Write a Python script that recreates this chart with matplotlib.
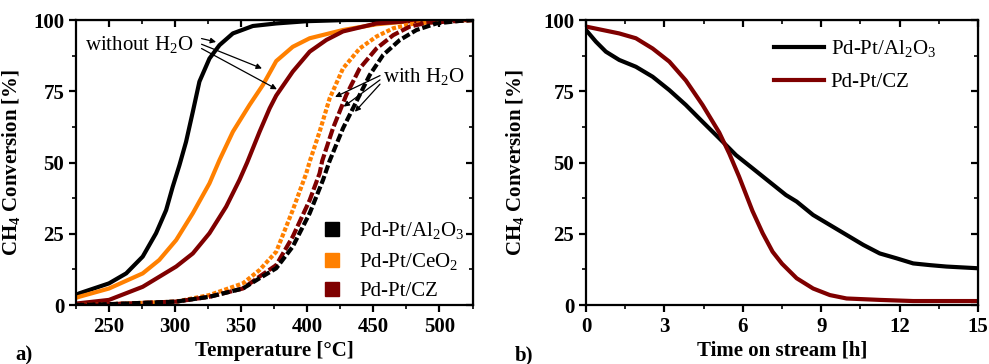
import matplotlib
matplotlib.use("Agg")
import matplotlib.pyplot as plt
from matplotlib.lines import Line2D
from matplotlib.ticker import MultipleLocator

plt.rcParams['font.family'] = ['Liberation Serif', 'DejaVu Serif']
plt.rcParams['mathtext.fontset'] = 'custom'
plt.rcParams['mathtext.rm'] = 'Liberation Serif'
plt.rcParams['mathtext.bf'] = 'Liberation Serif:bold'

BLACK = '#000000'
ORANGE = '#ff8000'
DRED = '#7f0000'

# panel a: light-off curves, without water
t_al = [225, 227.5, 250, 263, 275.5, 285.6, 293.2, 298.2, 303.3, 308.3, 313.4, 318.4,
        326, 333.6, 343.7, 358.8, 376.5, 400, 430, 525]
c_al = [3.5, 4.1, 7.6, 11.1, 17, 25.2, 33.3, 41.5, 49.1, 57.3, 67.8, 78.4,
        86.5, 91.2, 95.3, 97.9, 98.8, 99.6, 100, 100]
t_ce = [225, 227.5, 250, 275.5, 288, 300.8, 313.4, 326, 333.6, 343.7, 356.3, 366.4,
        376.5, 389, 401.8, 427, 452.3, 477.5, 500, 525]
c_ce = [2.5, 2.9, 5.8, 11.1, 15.8, 22.8, 32.2, 42.7, 50.9, 60.8, 70.2, 77.2,
        85.6, 90.6, 93.6, 96.5, 98.5, 99.6, 100, 100]
t_cz = [225, 250, 275.5, 300.8, 313.4, 326, 338.6, 348.7, 354.5, 363.9, 371.5, 376.5,
        389, 401.8, 414.4, 427, 452.3, 477.5, 500, 525]
c_cz = [0.5, 1.8, 6.4, 13.5, 18.1, 25.2, 34.5, 43.9, 50, 60.8, 69, 73.5,
        81.9, 88.9, 93, 96, 98.8, 99.6, 100, 100]

# panel a: light-off curves, with water
tw_al = [225, 250, 300.8, 326, 351.3, 363.9, 376.5, 389, 401.8, 411.9, 416.9, 427,
         437, 447.2, 457.3, 470, 482.6, 497.7, 515.4, 525]
cw_al = [0, 0.3, 1.2, 2.9, 5.8, 9.4, 12.9, 20.5, 32.2, 43.9, 50.6, 62,
         71.3, 80.7, 87.7, 93, 96.5, 98.8, 99.7, 100]
tw_ce = [225, 250, 300.8, 326, 351.3, 363.9, 376.5, 389, 399.2, 402, 409.3, 416.9,
         427, 439.6, 452.3, 465, 477.5, 502.8, 525]
cw_ce = [0, 0.3, 1.2, 3.5, 7.6, 12.3, 18.7, 33.3, 46.2, 50.6, 60.8, 72.5,
         83, 90, 94.2, 97.1, 98.5, 99.7, 100]
tw_cz = [225, 250, 300.8, 326, 351.3, 363.9, 376.5, 389, 401.8, 409.3, 411.3, 419.4,
         429.5, 439.6, 452.3, 465, 477.5, 490, 515.4, 525]
cw_cz = [0, 0.3, 1.2, 2.9, 5.8, 10, 14, 24, 36.8, 46.2, 50.6, 62,
         73.7, 83, 90, 94.7, 97.7, 99, 99.7, 100]

# panel b: time on stream
h_al = [0, 0.38, 0.76, 1.27, 1.91, 2.55, 3.19, 3.82, 4.46, 5.1, 5.74, 6.37, 7.01, 7.65,
        8.06, 8.69, 9.33, 9.97, 10.61, 11.24, 11.88, 12.52, 13.16, 13.79, 15]
s_al = [96.5, 92.4, 88.9, 86, 83.6, 80.1, 75.4, 70.2, 64.3, 58.5, 52.6, 48, 43.3, 38.6,
        36.3, 31.6, 28.1, 24.6, 21.1, 18.1, 16.4, 14.6, 14, 13.5, 12.9]
h_cz = [0, 1.27, 1.91, 2.55, 3.19, 3.82, 4.46, 5.1, 5.48, 5.86, 6.37, 6.76, 7.14, 7.5,
        8.06, 8.69, 9.33, 9.97, 11.24, 12.52, 15]
s_cz = [97.7, 95.3, 93.6, 90, 85.4, 78.8, 70.2, 60.5, 53.2, 45, 33, 25.2, 18.7, 14.5,
        9.4, 5.8, 3.5, 2.3, 1.8, 1.4, 1.4]

fig = plt.figure(figsize=(9.89, 3.64), dpi=100)
ax1 = fig.add_axes([0.0768, 0.162, 0.401, 0.783])
ax2 = fig.add_axes([0.5925, 0.162, 0.3964, 0.783])

lw = 3.0
ax1.plot(t_al, c_al, color=BLACK, lw=lw)
ax1.plot(t_ce, c_ce, color=ORANGE, lw=lw)
ax1.plot(t_cz, c_cz, color=DRED, lw=lw)
ax1.plot(tw_ce, cw_ce, color=ORANGE, lw=lw, ls=(0, (1.0, 0.5)))
ax1.plot(tw_cz, cw_cz, color=DRED, lw=lw, ls=(0, (2.5, 0.7)))
ax1.plot(tw_al, cw_al, color=BLACK, lw=lw, ls=(0, (2.0, 0.7)))

ax2.plot(h_al, s_al, color=BLACK, lw=lw, label='Pd-Pt/Al$_2$O$_3$')
ax2.plot(h_cz, s_cz, color=DRED, lw=lw, label='Pd-Pt/CZ')


def style(ax, xlim, xmaj, xmin):
    ax.set_xlim(*xlim)
    ax.set_ylim(0, 100)
    ax.xaxis.set_major_locator(MultipleLocator(xmaj))
    ax.xaxis.set_minor_locator(MultipleLocator(xmin))
    ax.yaxis.set_major_locator(MultipleLocator(25))
    ax.yaxis.set_minor_locator(MultipleLocator(12.5))
    for s in ax.spines.values():
        s.set_linewidth(1.6)
    ax.tick_params(which='major', direction='out', length=5, width=1.6, labelsize=15)
    ax.tick_params(which='minor', direction='out', length=3, width=1.2)
    for lab in ax.get_xticklabels() + ax.get_yticklabels():
        lab.set_fontweight('bold')
    # mirrored inward ticks on top and right
    top = ax.secondary_xaxis('top')
    top.xaxis.set_major_locator(MultipleLocator(xmaj))
    top.xaxis.set_minor_locator(MultipleLocator(xmin))
    top.tick_params(which='major', direction='in', length=5, width=1.6, labeltop=False)
    top.tick_params(which='minor', direction='in', length=3, width=1.2)
    right = ax.secondary_yaxis('right')
    right.yaxis.set_major_locator(MultipleLocator(25))
    right.yaxis.set_minor_locator(MultipleLocator(12.5))
    right.tick_params(which='major', direction='in', length=5, width=1.6, labelright=False)
    right.tick_params(which='minor', direction='in', length=3, width=1.2)
    ax.set_ylabel(r'CH$_\mathbf{4}$ Conversion [%]', fontsize=15, fontweight='bold')


style(ax1, (225, 525), 50, 25)
style(ax2, (0, 15), 3, 1.5)
ax1.set_xlabel('Temperature [°C]', fontsize=15, fontweight='bold')
ax2.set_xlabel('Time on stream [h]', fontsize=15, fontweight='bold')
ax1.yaxis.set_label_coords(-0.133, 0.5)
ax2.yaxis.set_label_coords(-0.15, 0.5)
ax1.xaxis.set_label_coords(0.5, -0.125)
ax2.xaxis.set_label_coords(0.5, -0.125)

# annotations
ax1.text(232, 91, 'without H$_2$O', fontsize=15, va='center', ha='left')
arr = dict(arrowstyle='-|>', color='black', lw=0.9, mutation_scale=8, shrinkA=0, shrinkB=0)
ax1.annotate('', xy=(331, 92.3), xytext=(320, 93.5), arrowprops=arr)
ax1.annotate('', xy=(365.7, 83), xytext=(320, 91.5), arrowprops=arr)
ax1.annotate('', xy=(377, 75.7), xytext=(320, 90), arrowprops=arr)
ax1.text(457, 80, 'with H$_2$O', fontsize=15, va='center', ha='left')
ax1.annotate('', xy=(421, 73), xytext=(455, 80.5), arrowprops=arr)
ax1.annotate('', xy=(427.5, 69.6), xytext=(455, 79), arrowprops=arr)
ax1.annotate('', xy=(436, 67.8), xytext=(455, 77.5), arrowprops=arr)

# legends
handles = [Line2D([], [], ls='', marker='s', ms=10, color=c) for c in (BLACK, ORANGE, DRED)]
ax1.legend(handles, ['Pd-Pt/Al$_2$O$_3$', 'Pd-Pt/CeO$_2$', 'Pd-Pt/CZ'],
           loc='lower right', frameon=False, fontsize=15, handlelength=1.0,
           handletextpad=0.8, labelspacing=0.42, borderaxespad=0.0,
           bbox_to_anchor=(1.0, -0.015))
ax2.legend(loc='upper right', frameon=False, fontsize=15, handlelength=2.4,
           handletextpad=0.3, labelspacing=0.6, bbox_to_anchor=(0.94, 1.0))

fig.text(15 / 989, 9 / 364, 'a)', fontsize=15, fontweight='bold', va='center')
fig.text(515 / 989, 9 / 364, 'b)', fontsize=15, fontweight='bold', va='center')

fig.savefig('out.png', dpi=100)
